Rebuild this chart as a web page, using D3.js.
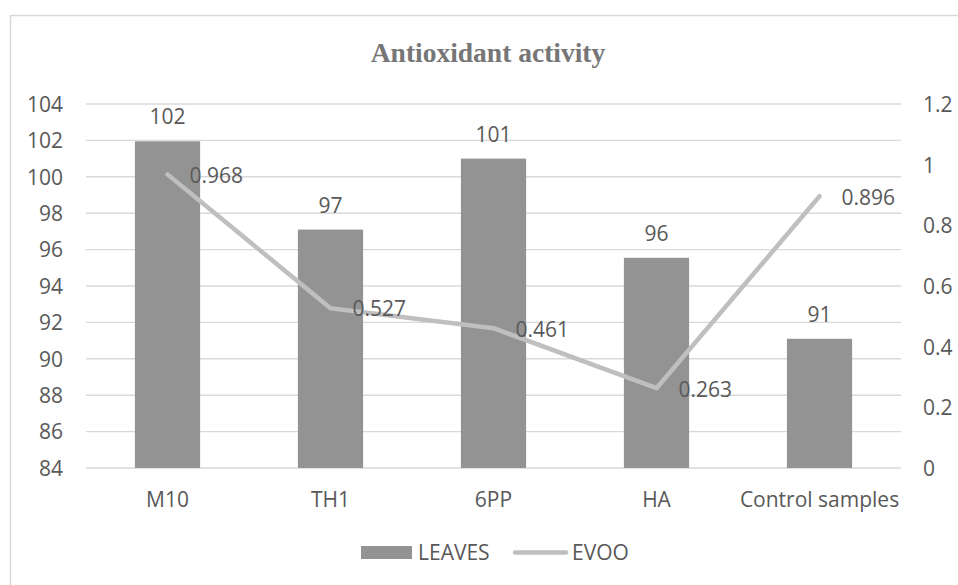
<!DOCTYPE html>
<html>
<head>
<meta charset="utf-8">
<script src="https://cdn.jsdelivr.net/npm/d3@7"></script>
<style>
  html, body { margin: 0; padding: 0; background: #fff; }
  svg { display: block; }
</style>
</head>
<body>
<script>
const categories = ["M10", "TH1", "6PP", "HA", "Control samples"];
const leaves = [101.95, 97.1, 101.0, 95.55, 91.1];
const evoo = [0.968, 0.527, 0.461, 0.263, 0.896];
const leftTicks = [84, 86, 88, 90, 92, 94, 96, 98, 100, 102, 104];
const rightTicks = [0, 0.2, 0.4, 0.6, 0.8, 1, 1.2];
const title = "Antioxidant activity";
const seriesNames = ["LEAVES", "EVOO"];

const W = 958, H = 585;
const plot = { left: 86, right: 901, top: 104, bottom: 468 };
const textColor = "#595959";
const font = "'Open Sans', sans-serif";
const fs = 21;

const svg = d3.select("body").append("svg").attr("width", W).attr("height", H);

// outer border
svg.append("rect").attr("x", 10.5).attr("y", 15.5).attr("width", 1000).attr("height", 1000)
  .attr("fill", "#fff").attr("stroke", "#d9d9d9").attr("stroke-width", 1.5);

const x = d3.scaleBand().domain(categories).range([plot.left, plot.right])
  .paddingInner(0.6).paddingOuter(0.3);
const yL = d3.scaleLinear().domain([84, 104]).range([plot.bottom, plot.top]);
const yR = d3.scaleLinear().domain([0, 1.2]).range([plot.bottom, plot.top]);

// title
svg.append("text").attr("x", 488).attr("y", 62).attr("text-anchor", "middle")
  .attr("font-family", "'Liberation Serif', serif").attr("font-weight", "bold")
  .attr("font-size", 27.5).attr("fill", "#767676").text(title);

// gridlines
svg.append("g").selectAll("line").data(leftTicks).join("line")
  .attr("x1", plot.left).attr("x2", plot.right)
  .attr("y1", d => yL(d)).attr("y2", d => yL(d))
  .attr("stroke", "#d9d9d9").attr("stroke-width", 1.4);

// left axis
const axL = d3.axisLeft(yL).tickValues(leftTicks).tickSize(0).tickPadding(0);
const gL = svg.append("g").attr("transform", `translate(63,0)`).call(axL);
gL.select(".domain").remove();
gL.selectAll("text").attr("font-family", font).attr("font-size", fs).attr("fill", textColor)
  .attr("dy", "0.35em");

// right axis
const axR = d3.axisRight(yR).tickValues(rightTicks).tickSize(0).tickPadding(0)
  .tickFormat(d => String(d));
const gR = svg.append("g").attr("transform", `translate(923,0)`).call(axR);
gR.select(".domain").remove();
gR.selectAll("text").attr("font-family", font).attr("font-size", fs).attr("fill", textColor)
  .attr("dy", "0.35em");

// x axis
const axB = d3.axisBottom(x).tickSize(0).tickPadding(0);
const gB = svg.append("g").attr("transform", `translate(0,${plot.bottom})`).call(axB);
gB.select(".domain").remove();
gB.selectAll("text").attr("font-family", font).attr("font-size", fs).attr("fill", textColor)
  .attr("dy", 0).attr("y", 39);

// bars
svg.append("g").selectAll("rect").data(categories).join("rect")
  .attr("x", d => x(d)).attr("width", x.bandwidth())
  .attr("y", (d, i) => yL(leaves[i]))
  .attr("height", (d, i) => yL(84) - yL(leaves[i]))
  .attr("fill", "#939393");

// bar labels
svg.append("g").selectAll("text").data(categories).join("text")
  .attr("x", d => x(d) + x.bandwidth() / 2)
  .attr("y", (d, i) => yL(leaves[i]) - 17)
  .attr("text-anchor", "middle")
  .attr("font-family", font).attr("font-size", fs).attr("fill", textColor)
  .text((d, i) => Math.round(leaves[i]));

// line
const cx = d => x(d) + x.bandwidth() / 2;
const line = d3.line().x((d, i) => cx(categories[i])).y(d => yR(d));
svg.append("path").datum(evoo).attr("d", line)
  .attr("fill", "none").attr("stroke", "#bfbfbf").attr("stroke-width", 4.5)
  .attr("stroke-linejoin", "round").attr("stroke-linecap", "round");

// line labels
svg.append("g").selectAll("text").data(categories).join("text")
  .attr("x", d => cx(d) + 22)
  .attr("y", (d, i) => yR(evoo[i]) + 1)
  .attr("dy", "0.35em")
  .attr("font-family", font).attr("font-size", fs).attr("fill", textColor)
  .text((d, i) => String(evoo[i]));

// legend
const lg = svg.append("g");
lg.append("rect").attr("x", 361).attr("y", 546).attr("width", 51).attr("height", 13).attr("fill", "#939393");
lg.append("text").attr("x", 418).attr("y", 560).attr("font-family", font).attr("font-size", fs)
  .attr("fill", textColor).text(seriesNames[0]);
lg.append("line").attr("x1", 515).attr("x2", 566).attr("y1", 552.5).attr("y2", 552.5)
  .attr("stroke", "#bfbfbf").attr("stroke-width", 4.5).attr("stroke-linecap", "round");
lg.append("text").attr("x", 572).attr("y", 560).attr("font-family", font).attr("font-size", fs)
  .attr("fill", textColor).text(seriesNames[1]);
</script>
</body>
</html>
